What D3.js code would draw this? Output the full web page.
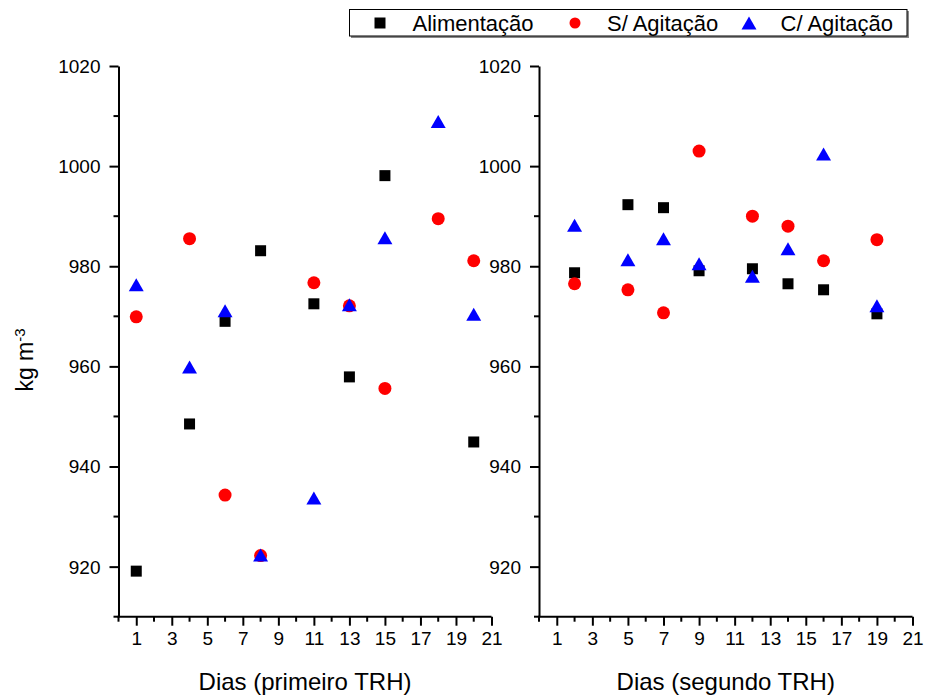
<!DOCTYPE html>
<html>
<head>
<meta charset="utf-8">
<title>kg m-3 por dia</title>
<script src="https://cdn.jsdelivr.net/npm/d3@7"></script>
<style>
  body { margin: 0; background: #fff; }
  text { font-family: Arial, "Liberation Sans", sans-serif; fill: #000; }
</style>
</head>
<body>
<script>
// dados (kg m-3)
var series = ["Alimentação", "S/ Agitação", "C/ Agitação"];
var colors = ["#000000", "#ff0000", "#0000ff"];
var shapes = ["square", "circle", "triangle"];

// primeiro TRH
var dias1 = [1, 4, 6, 8, 11, 13, 15, 18, 20];
var alim1 = [919.1, 948.5, 969.0, 983.1, 972.5, 957.9, 998.1, null, 944.9];
var semAg1 = [969.9, 985.5, 934.3, 922.2, 976.7, 972.1, 955.6, 989.5, 981.1];
var comAg1 = [976.3, 959.9, 971.1, 922.3, 933.7, 972.3, 985.7, 1008.9, 970.4];

// segundo TRH
var dias2 = [2, 5, 7, 9, 12, 14, 16, 19];
var alim2 = [978.7, 992.3, 991.7, 979.1, 979.5, 976.5, 975.3, 970.5];
var semAg2 = [976.5, 975.3, 970.7, 1003.0, 990.0, 988.0, 981.1, 985.3];
var comAg2 = [988.2, 981.3, 985.5, 980.5, 978.0, 983.5, 1002.4, 972.1];

var yTicks = [920, 940, 960, 980, 1000, 1020];
var xTicks = [1, 3, 5, 7, 9, 11, 13, 15, 17, 19, 21];

var width = 925, height = 697;
var svg = d3.select("body").append("svg").attr("width", width).attr("height", height);

var yScale = d3.scaleLinear().domain([910, 1020]).range([616.7, 66]);

var panels = [
  { x0: 118.5, x1: 491.5, title: "Dias (primeiro TRH)", dias: dias1, vals: [alim1, semAg1, comAg1] },
  { x0: 539, x1: 912.5, title: "Dias (segundo TRH)", dias: dias2, vals: [alim2, semAg2, comAg2] }
];

// desenha o simbolo centrado em (0,0)
function symbolPath(shape, s) {
  if (shape == "square") {
    var h = s / 2;
    return "M" + (-h) + "," + (-h) + "H" + h + "V" + h + "H" + (-h) + "Z";
  }
  if (shape == "circle") {
    var r = s / 2;
    return "M" + (-r) + ",0A" + r + "," + r + " 0 1,0 " + r + ",0A" + r + "," + r + " 0 1,0 " + (-r) + ",0Z";
  }
  var w = s * 1.15 / 2, t = s / 2;
  return "M0," + (-t) + "L" + w + "," + t + "L" + (-w) + "," + t + "Z";
}
var sizes = [11, 13, 13];

panels.forEach(function(p) {
  var xScale = d3.scaleLinear().domain([0, 21]).range([p.x0, p.x1]);
  var g = svg.append("g");

  // eixo y
  var yAxis = d3.axisLeft(yScale).tickValues(yTicks).tickFormat(d3.format("d"))
    .tickSize(9).tickPadding(9).tickSizeOuter(0);
  var ya = g.append("g").attr("transform", "translate(" + p.x0 + ",0)").call(yAxis);
  ya.selectAll("text").style("font-size", "19px").attr("dy", "0.34em");
  ya.selectAll("line").attr("stroke", "#000").attr("stroke-width", 2);
  ya.select(".domain").attr("stroke", "#000").attr("stroke-width", 2);
  g.append("g").selectAll("line")
    .data(d3.range(910, 1020, 20))
    .enter().append("line")
    .attr("x1", p.x0 - 5).attr("x2", p.x0)
    .attr("y1", function(d) { return yScale(d); })
    .attr("y2", function(d) { return yScale(d); })
    .attr("stroke", "#000").attr("stroke-width", 2);

  // eixo x
  var xAxis = d3.axisBottom(xScale).tickValues(xTicks).tickSize(9).tickPadding(6).tickSizeOuter(0);
  var xa = g.append("g").attr("transform", "translate(0," + yScale(910) + ")").call(xAxis);
  xa.selectAll("text").style("font-size", "19px");
  xa.selectAll("line").attr("stroke", "#000").attr("stroke-width", 2);
  xa.select(".domain").attr("stroke", "#000").attr("stroke-width", 2)
    .attr("d", "M" + (p.x0 - 1) + ",0H" + p.x1);
  g.append("g").selectAll("line")
    .data(d3.range(0, 21, 2))
    .enter().append("line")
    .attr("x1", function(d) { return xScale(d); })
    .attr("x2", function(d) { return xScale(d); })
    .attr("y1", yScale(910)).attr("y2", yScale(910) + 5)
    .attr("stroke", "#000").attr("stroke-width", 2);

  g.append("text")
    .attr("x", (p.x0 + p.x1) / 2).attr("y", 690)
    .attr("text-anchor", "middle")
    .style("font-size", "24px")
    .text(p.title);

  // pontos: quadrados, depois circulos, depois triangulos
  p.vals.forEach(function(vals, si) {
    var pts = p.dias.map(function(d, i) { return { x: d, y: vals[i] }; })
      .filter(function(d) { return d.y != null; });
    g.append("g").selectAll("path")
      .data(pts)
      .enter().append("path")
      .attr("d", symbolPath(shapes[si], sizes[si]))
      .attr("transform", function(d) { return "translate(" + xScale(d.x) + "," + yScale(d.y) + ")"; })
      .attr("fill", colors[si]);
  });
});

// titulo do eixo y
var yt = svg.append("text")
  .attr("transform", "translate(33,360) rotate(-90)")
  .attr("text-anchor", "middle")
  .style("font-size", "23px");
yt.append("tspan").text("kg m");
yt.append("tspan").attr("dy", "-0.55em").style("font-size", "15px").text("-3");

// legenda
var leg = svg.append("g");
leg.append("rect").attr("x", 351).attr("y", 11).attr("width", 558).attr("height", 27).attr("fill", "#888");
leg.append("rect").attr("x", 349.5).attr("y", 9.5).attr("width", 557.5).attr("height", 26.5)
  .attr("fill", "#fff").attr("stroke", "#000").attr("stroke-width", 1);
var legX = [380, 575, 749];
var legTx = [412.5, 607, 780.5];
series.forEach(function(name, i) {
  leg.append("path")
    .attr("d", symbolPath(shapes[i], i == 2 ? 13 : 11))
    .attr("transform", "translate(" + legX[i] + ",23)")
    .attr("fill", colors[i]);
  leg.append("text")
    .attr("x", legTx[i]).attr("y", 31)
    .style("font-size", "22px")
    .text(name);
});
</script>
</body>
</html>
